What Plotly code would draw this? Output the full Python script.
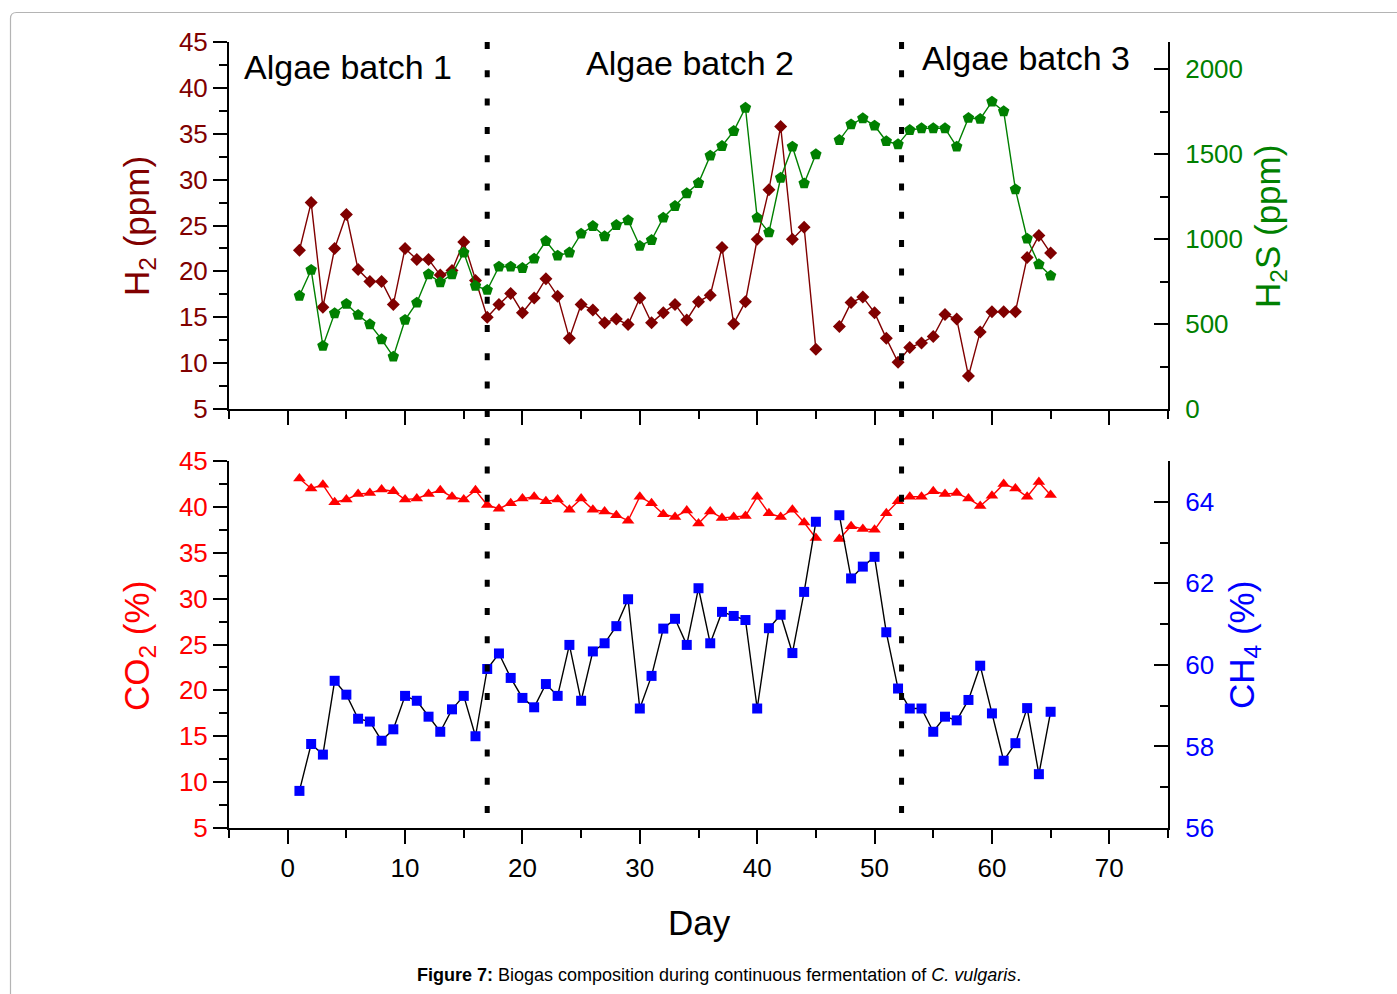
import plotly.graph_objects as go

# Sampling days (no measurement on day 46)
days = list(range(1, 66))

h2_ppm = [22.3, 27.5, 16.1, 22.5, 26.2, 20.2, 18.9, 18.9, 16.4, 22.5,
          21.3, 21.3, 19.6, 20.1, 23.2, 19.0, 15.0, 16.4, 17.6, 15.5,
          17.1, 19.2, 17.3, 12.7, 16.4, 15.8, 14.4, 14.8, 14.2, 17.1,
          14.4, 15.5, 16.4, 14.7, 16.7, 17.4, 22.6, 14.3, 16.7, 23.5,
          28.9, 35.8, 23.5, 24.8, 11.5, None, 14.0, 16.6, 17.2, 15.5,
          12.7, 10.1, 11.7, 12.2, 12.9, 15.3, 14.8, 8.6, 13.4, 15.6,
          15.6, 15.6, 21.5, 23.9, 22.0]

h2s_ppm = [666, 818, 371, 563, 618, 553, 498, 410, 308, 524,
           625, 792, 745, 792, 920, 724, 700, 837, 837, 829,
           884, 988, 902, 920, 1031, 1076, 1016, 1082, 1110, 959,
           994, 1125, 1194, 1269, 1329, 1490, 1547, 1635, 1772, 1125,
           1039, 1360, 1543, 1327, 1498, None, 1582, 1674, 1710, 1667,
           1575, 1557, 1641, 1651, 1651, 1651, 1543, 1712, 1706, 1808,
           1751, 1292, 1002, 851, 784]

co2_pct = [43.1, 42.0, 42.4, 40.5, 40.8, 41.4, 41.5, 41.9, 41.7, 40.8,
           40.9, 41.4, 41.8, 41.1, 40.8, 41.8, 40.2, 39.8, 40.4, 40.9,
           41.1, 40.6, 40.8, 39.7, 40.9, 39.7, 39.5, 39.1, 38.5, 41.1,
           40.4, 39.2, 38.9, 39.6, 38.2, 39.5, 38.8, 38.9, 39.0, 41.1,
           39.3, 38.9, 39.7, 38.3, 36.6, None, 36.5, 37.9, 37.6, 37.5,
           39.3, 40.6, 41.1, 41.1, 41.7, 41.4, 41.5, 40.9, 40.1, 41.2,
           42.5, 42.0, 41.1, 42.7, 41.3]

ch4_pct = [56.91, 58.06, 57.80, 59.61, 59.27, 58.68, 58.61, 58.14, 58.42, 59.24,
           59.12, 58.73, 58.36, 58.91, 59.24, 58.25, 59.90, 60.28, 59.68, 59.19,
           58.96, 59.53, 59.24, 60.49, 59.12, 60.33, 60.53, 60.95, 61.61, 58.93,
           59.73, 60.89, 61.13, 60.49, 61.88, 60.53, 61.30, 61.20, 61.10, 58.93,
           60.90, 61.23, 60.29, 61.79, 63.51, None, 63.67, 62.12, 62.41, 62.65,
           60.80, 59.42, 58.93, 58.93, 58.36, 58.73, 58.64, 59.14, 59.98, 58.81,
           57.65, 58.08, 58.94, 57.32, 58.85]

# Day on which each new algae batch was started
batch_starts = [17.0, 52.3]
batch_labels = ["Algae batch 1", "Algae batch 2", "Algae batch 3"]
batch_label_days = [5.1, 34.3, 62.9]

W, H = 1397, 994
FONT = "Liberation Sans, Arial, sans-serif"
MAROON, GREEN, RED, BLUE = "#800000", "#008000", "#ff0000", "#0000ff"

x_dom = [229 / W, 1168 / W]
top_dom = [1 - 409 / H, 1 - 42 / H]
bot_dom = [1 - 828 / H, 1 - 461 / H]

fig = go.Figure()

fig.add_trace(go.Scatter(x=days, y=h2_ppm, xaxis="x", yaxis="y", mode="lines+markers",
                         line=dict(color=MAROON, width=1.4),
                         marker=dict(symbol="diamond", size=10, color=MAROON),
                         connectgaps=False, showlegend=False))
fig.add_trace(go.Scatter(x=days, y=h2s_ppm, xaxis="x", yaxis="y2", mode="lines+markers",
                         line=dict(color=GREEN, width=1.4),
                         marker=dict(symbol="pentagon", size=12, color=GREEN),
                         connectgaps=False, showlegend=False))
fig.add_trace(go.Scatter(x=days, y=co2_pct, xaxis="x2", yaxis="y3", mode="lines+markers",
                         line=dict(color=RED, width=1.4),
                         marker=dict(symbol="triangle-up", size=11, color=RED),
                         connectgaps=False, showlegend=False))
fig.add_trace(go.Scatter(x=days, y=ch4_pct, xaxis="x2", yaxis="y4", mode="lines+markers",
                         line=dict(color="black", width=1.4),
                         marker=dict(symbol="square", size=10, color=BLUE),
                         connectgaps=False, showlegend=False))

axis_common = dict(showline=True, linecolor="black", linewidth=2, tickcolor="black",
                   tickwidth=2, ticklen=14, showgrid=False, zeroline=False,
                   automargin=False, tickfont=dict(family=FONT, size=26))


def minor(d, ticks):
    return dict(dtick=d, ticks=ticks, ticklen=8, tickwidth=2, tickcolor="black", showgrid=False)


xcommon = dict(axis_common, range=[-5, 75], dtick=10, tick0=0, ticks="outside",
               minor=minor(5, "outside"), domain=x_dom)

fig.update_layout(
    width=W, height=H, margin=dict(l=0, r=0, t=0, b=0, pad=0, autoexpand=False),
    paper_bgcolor="white", plot_bgcolor="white",
    font=dict(family=FONT, color="black"),
    xaxis=dict(xcommon, anchor="y", showticklabels=False),
    xaxis2=dict(xcommon, anchor="y3", tickfont=dict(family=FONT, size=26, color="black"),
                ticklabelstandoff=2),
    yaxis=dict(axis_common, domain=top_dom, anchor="x", range=[5, 45], dtick=5, tick0=5,
               ticks="outside", minor=minor(2.5, "outside"),
               tickfont=dict(family=FONT, size=26, color=MAROON)),
    yaxis2=dict(axis_common, domain=top_dom, anchor="x", overlaying="y", side="right",
                range=[0, 2159], dtick=500, tick0=0, ticks="inside",
                minor=minor(250, "inside"), ticklabelstandoff=10,
                tickfont=dict(family=FONT, size=26, color=GREEN)),
    yaxis3=dict(axis_common, domain=bot_dom, anchor="x2", range=[5, 45], dtick=5, tick0=5,
                ticks="outside", minor=minor(2.5, "outside"),
                tickfont=dict(family=FONT, size=26, color=RED)),
    yaxis4=dict(axis_common, domain=bot_dom, anchor="x2", overlaying="y3", side="right",
                range=[56, 65], dtick=2, tick0=56, ticks="inside",
                minor=minor(1, "inside"), ticklabelstandoff=10,
                tickfont=dict(family=FONT, size=26, color=BLUE)),
)

# Dotted separators between algae batches, spanning both panels (drawn top-down)
for d in batch_starts:
    fig.add_shape(type="line", xref="x", yref="paper", x0=d, x1=d,
                  y0=1 - 42 / H, y1=1 - 834 / H,
                  line=dict(color="black", width=5, dash="7px,21.3px"))

annotations = []
for lbl, d, yp in zip(batch_labels, batch_label_days, [67, 63, 58]):
    annotations.append(dict(text=lbl, x=d, xref="x", y=1 - yp / H, yref="paper",
                            showarrow=False, xanchor="center", yanchor="middle",
                            font=dict(family=FONT, size=34, color="black")))

titles = [
    ("H<sub>2</sub> (ppm)", 139, 226, MAROON),
    ("CO<sub>2</sub> (%)", 139, 646, RED),
    ("H<sub>2</sub>S (ppm)", 1270, 227, GREEN),
    ("CH<sub>4</sub> (%)", 1244, 645, BLUE),
]
for txt, px, py, col in titles:
    annotations.append(dict(text=txt, x=px / W, y=1 - py / H, xref="paper", yref="paper",
                            showarrow=False, textangle=-90, xanchor="center", yanchor="middle",
                            font=dict(family=FONT, size=35, color=col)))

annotations.append(dict(text="Day", x=699 / W, y=1 - 922 / H, xref="paper", yref="paper",
                        showarrow=False, xanchor="center", yanchor="middle",
                        font=dict(family=FONT, size=35, color="black")))
annotations.append(dict(text="<b>Figure 7:</b> Biogas composition during continuous fermentation of "
                             "<i>C. vulgaris</i>.",
                        x=719 / W, y=1 - 975 / H, xref="paper", yref="paper",
                        showarrow=False, xanchor="center", yanchor="middle",
                        font=dict(family=FONT, size=18, color="black")))
fig.update_layout(annotations=annotations)

# Thin rounded page frame
fx, fy, r = 10.5 / W, 1 - 12.5 / H, 6
fig.add_shape(type="path", xref="paper", yref="paper",
              path=(f"M {fx},0 L {fx},{1 - (12.5 + r) / H} "
                    f"Q {fx},{fy} {(10.5 + r) / W},{fy} L 1,{fy}"),
              line=dict(color="#b4b4b4", width=1.2))

fig.write_html("out.html")
